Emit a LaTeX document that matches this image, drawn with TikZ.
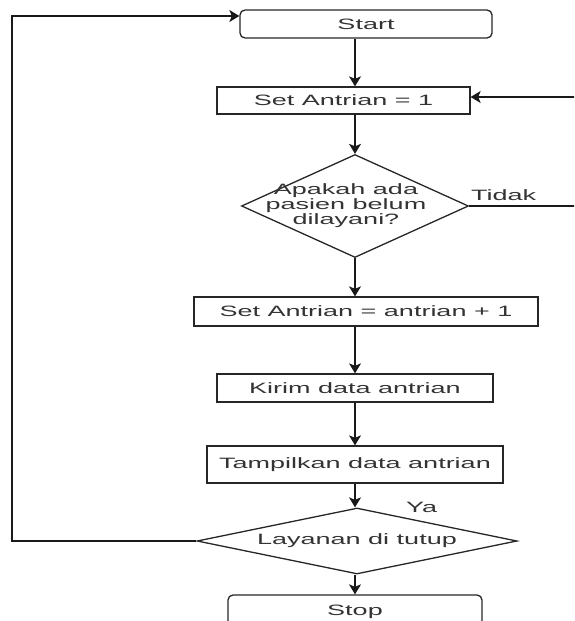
\documentclass[tikz,border=0pt]{standalone}
\usepackage{fontspec}
\usepackage{graphicx}
\setmainfont{Liberation Sans}
\usetikzlibrary{shapes.geometric,arrows.meta}
\newcommand\wtext[1]{\scalebox{1.8}[1]{#1}}
\begin{document}
\begin{tikzpicture}[x=1pt,y=-1pt,
  font=\fontsize{15}{14}\selectfont,
  every node/.style={text=black!80},
  boxstyle/.style={draw=black!85, line width=1.3pt, inner sep=0pt},
  roundbox/.style={boxstyle, rounded corners=5pt},
  diastyle/.style={draw=black!85, line width=1.3pt, diamond, inner sep=0pt},
  arr/.style={draw=black!90, line width=1.4pt, -{Stealth[length=10pt,width=12pt,inset=2.5pt]}},
  ln/.style={draw=black!90, line width=1.4pt}]
\useasboundingbox (0,0) rectangle (574,621);
\clip (0,0) rectangle (574,621);
\coordinate (axis) at (355,0);
\coordinate (lft) at (12,0);
\coordinate (rgt) at (580,0);

\node[roundbox, minimum width=252pt, minimum height=28pt] (start) at (366,24) {\wtext{Start}};
\node[boxstyle, minimum width=253pt, minimum height=27pt] (sa1) at (343.5,100.5) {\wtext{Set Antrian = 1}};
\node[diastyle, minimum width=227pt, minimum height=103pt,
  label={[xshift=-9pt, font=\fontsize{15}{14}\selectfont]center:{\wtext{\begin{tabular}{@{}c@{}}Apakah ada\\pasien belum\\dilayani?\end{tabular}}}}] (d1) at (355,206) {};
\node[boxstyle, minimum width=344pt, minimum height=29pt] (sa2) at (366,311.5) {\wtext{Set Antrian = antrian + 1}};
\node[boxstyle, minimum width=276pt, minimum height=28pt] (kirim) at (355,388) {\wtext{Kirim data antrian}};
\node[boxstyle, minimum width=296pt, minimum height=37pt] (tampil) at (355,464.5) {\wtext{Tampilkan data antrian}};
\node[diastyle, minimum width=320pt, minimum height=66pt,
  label={center:{\wtext{Layanan di tutup}}}] (d2) at (357,541) {};
\node[roundbox, minimum width=254pt, minimum height=34pt] (stop) at (355,612) {\raisebox{3pt}{\wtext{Stop}}};

\node[anchor=base west, inner sep=0pt] (tidak) at (471,200) {\wtext{Tidak}};
\node[anchor=base west, inner sep=0pt] (ya) at (406,512) {\wtext{Ya}};

\draw[arr] (start.south -| axis) -- (sa1.north -| axis);
\draw[arr] (sa1.south -| axis) -- (d1.north);
\draw[arr] (d1.south) -- (sa2.north -| axis);
\draw[arr] (sa2.south -| axis) -- (kirim.north -| axis);
\draw[arr] (kirim.south -| axis) -- (tampil.north -| axis);
\draw[arr] (tampil.south -| axis) -- (d2.north -| axis);
\draw[arr] (d2.south -| axis) -- (stop.north -| axis);
\draw[arr] (d2.west) -- (d2.west -| lft) |- ([yshift=8pt]start.west);
\draw[arr] (d1.east) -- (d1.east -| rgt) |- ([yshift=3.5pt]sa1.east);
\end{tikzpicture}
\end{document}
